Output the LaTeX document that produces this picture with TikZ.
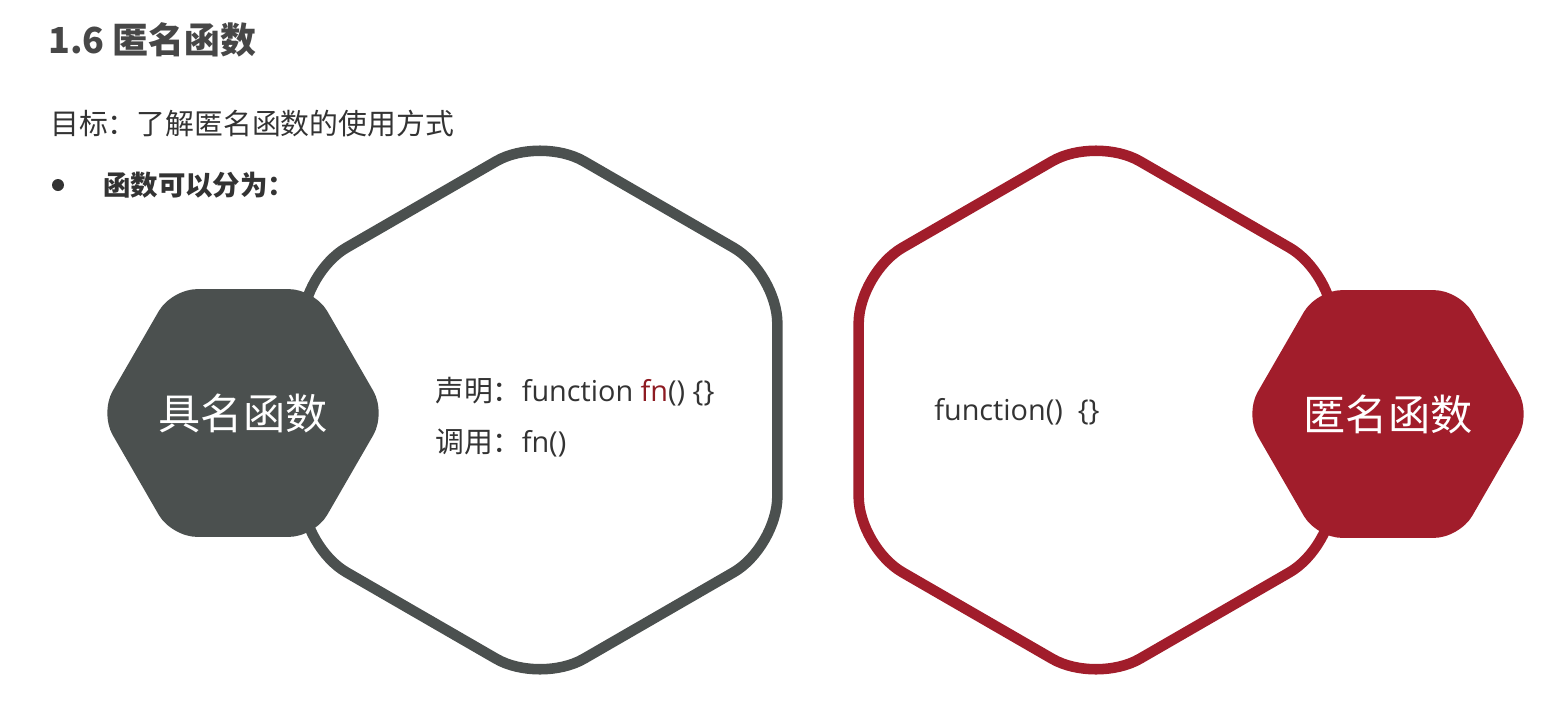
\documentclass[tikz,border=0pt]{standalone}
\usepackage{fontspec}
\setmainfont{Noto Sans CJK SC}
\newfontfamily\codefont{Open Sans}
\usepackage{xcolor}
\usetikzlibrary{shapes.geometric, positioning}

\definecolor{hexgray}{HTML}{4B504F}
\definecolor{hexred}{HTML}{A11D2B}
\definecolor{txtdark}{HTML}{333333}
\definecolor{fnred}{HTML}{8E1B22}

\begin{document}
\begin{tikzpicture}[
      x=0.025cm, y=-0.025cm,
      bighex/.style={regular polygon, regular polygon sides=6, shape border rotate=30,
        minimum size=13.7cm, inner sep=0pt, line width=7.5pt, rounded corners=36pt},
      smallhex/.style={regular polygon, regular polygon sides=6,
        minimum size=7.15cm, inner sep=0pt, rounded corners=18pt,
        text=white, font=\fontsize{30}{36}\selectfont},
      lbl/.style={anchor=west, inner sep=0pt, text=txtdark},
      codelbl/.style={lbl, font=\fontsize{20.5}{25}\selectfont}
    ]
    \useasboundingbox (0,0) rectangle (1557,710);

    % Intestazione
    \node[lbl, font=\bfseries\fontsize{25.5}{30}\selectfont, text=txtdark!90!white] (title) at (48,40) {1.6 匿名函数};
    \node[lbl, font=\fontsize{20.5}{25}\selectfont] (goal) at (50,124) {目标：了解匿名函数的使用方式};
    \fill[txtdark] (58,185) circle (6);
    \node[lbl, font=\bfseries\fontsize{19.5}{23}\selectfont] (kinds) at (103,185) {函数可以分为：};

    % Esagoni grandi
    \node[bighex, draw=hexgray] (namedframe) at (540,410) {};
    \node[bighex, draw=hexred] (anonframe) at (1096,410) {};

    % Esagoni pieni
    \node[smallhex, fill=hexgray] (named) at (243,413) {具名函数};
    \node[smallhex, fill=hexred] (anon) at (1388,414) {匿名函数};

    % Codice
    \node[codelbl] (decl) at (435,392) {声明：{\codefont function \textcolor{fnred}{fn}() \{\}}};
    \node[codelbl] (call) at (435,443) {调用：{\codefont fn()}};
    \node[codelbl] (anoncode) at (934,412) {{\codefont function()~~\{\}}};
  \end{tikzpicture}
\end{document}
